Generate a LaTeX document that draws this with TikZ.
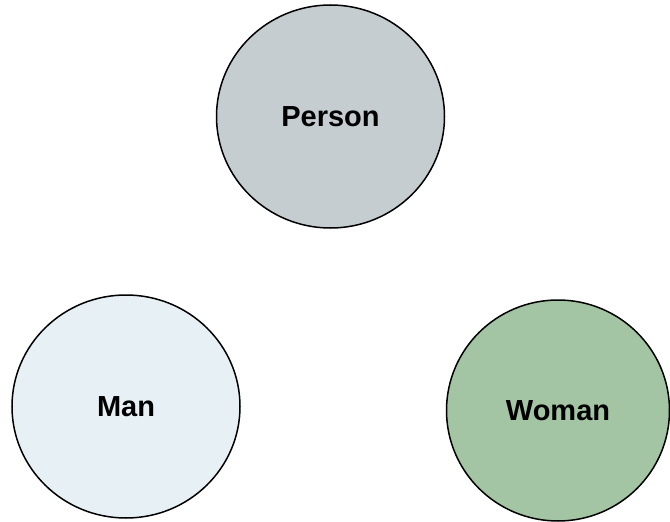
\documentclass[tikz,border=0pt]{standalone}
\usepackage{fontspec}
\setmainfont{Liberation Sans}
\usepackage{tikz}
\usetikzlibrary{shapes.geometric}

\begin{document}
\begin{tikzpicture}[x=1pt,y=-1pt]

% Colori
\definecolor{colPerson}{HTML}{C5CDD0}
\definecolor{colMan}{HTML}{E7F1F5}
\definecolor{colWoman}{HTML}{A3C5A3}

% Stile dei cerchi
\tikzset{
  entita/.style={ellipse, draw=black, line width=1.5pt,
    minimum width=228pt, minimum height=223pt, inner sep=0pt,
    font=\fontsize{29}{33}\selectfont\bfseries}
}

% Area del disegno
\useasboundingbox (0,0) rectangle (670,522);

% Cerchi
\node[entita, fill=colPerson] (person) at (330.5,116.5) {Person};
\node[entita, fill=colMan] (man) at (126,406.5) {Man};
\node[entita, fill=colWoman, minimum width=223pt, minimum height=221pt] (woman) at (558,410.5) {Woman};

\end{tikzpicture}
\end{document}
